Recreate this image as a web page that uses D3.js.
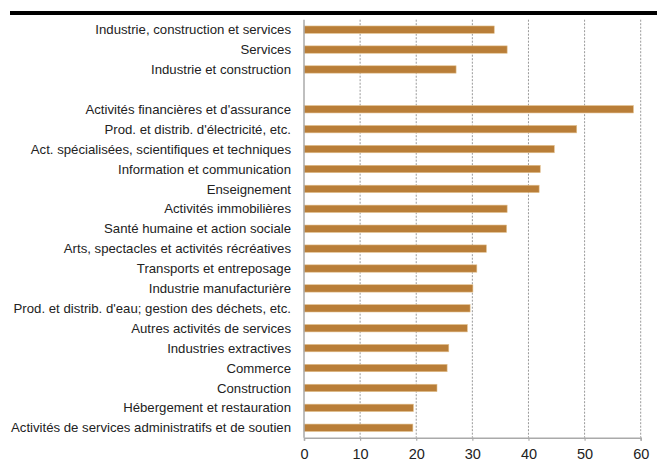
<!DOCTYPE html>
<html><head><meta charset="utf-8">
<script src="https://cdn.jsdelivr.net/npm/d3@7"></script>
<style>
html,body{margin:0;padding:0;background:#fff;}
svg{display:block;font-family:"Liberation Sans",Arial,sans-serif;}
</style></head>
<body>
<svg id="c" width="657" height="470"></svg>
<script>
const categories = [
  "Industrie, construction et services",
  "Services",
  "Industrie et construction",
  "",
  "Activités financières et d'assurance",
  "Prod. et distrib. d'électricité, etc.",
  "Act. spécialisées, scientifiques et techniques",
  "Information et communication",
  "Enseignement",
  "Activités immobilières",
  "Santé humaine et action sociale",
  "Arts, spectacles et activités récréatives",
  "Transports et entreposage",
  "Industrie manufacturière",
  "Prod. et distrib. d'eau; gestion des déchets, etc.",
  "Autres activités de services",
  "Industries extractives",
  "Commerce",
  "Construction",
  "Hébergement et restauration",
  "Activités de services administratifs et de soutien"
];
const values = [33.9, 36.2, 27.1, null, 58.7, 48.6, 44.6, 42.1, 41.9, 36.2, 36.1, 32.5, 30.8, 30.1, 29.6, 29.1, 25.8, 25.5, 23.7, 19.5, 19.4];
const xTicks = [0, 10, 20, 30, 40, 50, 60];

const svg = d3.select("#c");
const m = {left: 304, right: 16.3, top: 19.7, bottom: 32.3};
const W = 657, H = 470;

// top rule
svg.append("rect").attr("x", 10).attr("y", 11).attr("width", W - 10).attr("height", 4).attr("fill", "#000");

const keys = categories.map((c, i) => i);
const x = d3.scaleLinear().domain([0, 60]).range([m.left, W - m.right]);
const y = d3.scaleBand().domain(keys).range([m.top, H - m.bottom]).paddingInner(0.63).paddingOuter(0.315);

// gridlines
svg.append("g").selectAll("line").data(xTicks.filter(t => t > 0)).join("line")
  .attr("x1", d => x(d)).attr("x2", d => x(d))
  .attr("y1", m.top).attr("y2", H - m.bottom)
  .attr("stroke", "#999").attr("stroke-width", 1).attr("stroke-dasharray", "2,1.5");

// bars
const data = keys.map(i => ({k: i, v: values[i]})).filter(d => d.v != null);
svg.append("g").selectAll("rect").data(data).join("rect")
  .attr("x", x(0)).attr("y", d => y(d.k))
  .attr("width", d => x(d.v) - x(0)).attr("height", y.bandwidth())
  .attr("fill", "#b97e38").attr("stroke", "#e2c08e").attr("stroke-width", 0.6);

// y axis line
svg.append("line").attr("x1", x(0)).attr("x2", x(0)).attr("y1", m.top).attr("y2", H - m.bottom)
  .attr("stroke", "#aaa").attr("stroke-width", 1.5);

// category labels
svg.append("g").selectAll("text").data(keys).join("text")
  .attr("x", 291).attr("y", d => y(d) + y.bandwidth() / 2)
  .attr("dy", "0.35em").attr("text-anchor", "end")
  .attr("font-size", 13.2).attr("fill", "#222")
  .text(d => categories[d]);

// x axis
const xa = svg.append("g").attr("transform", `translate(0,${H - m.bottom})`)
  .call(d3.axisBottom(x).tickValues(xTicks).tickSize(3).tickPadding(8).tickFormat(d3.format("d")));
xa.select(".domain").attr("stroke", "#aaa").attr("stroke-width", 1.5);
xa.selectAll(".tick line").attr("stroke", "#aaa").attr("stroke-width", 1.2);
xa.selectAll("text").attr("font-size", 14.5).attr("fill", "#222").attr("font-family", "Liberation Sans, Arial, sans-serif");
</script>
</body></html>
